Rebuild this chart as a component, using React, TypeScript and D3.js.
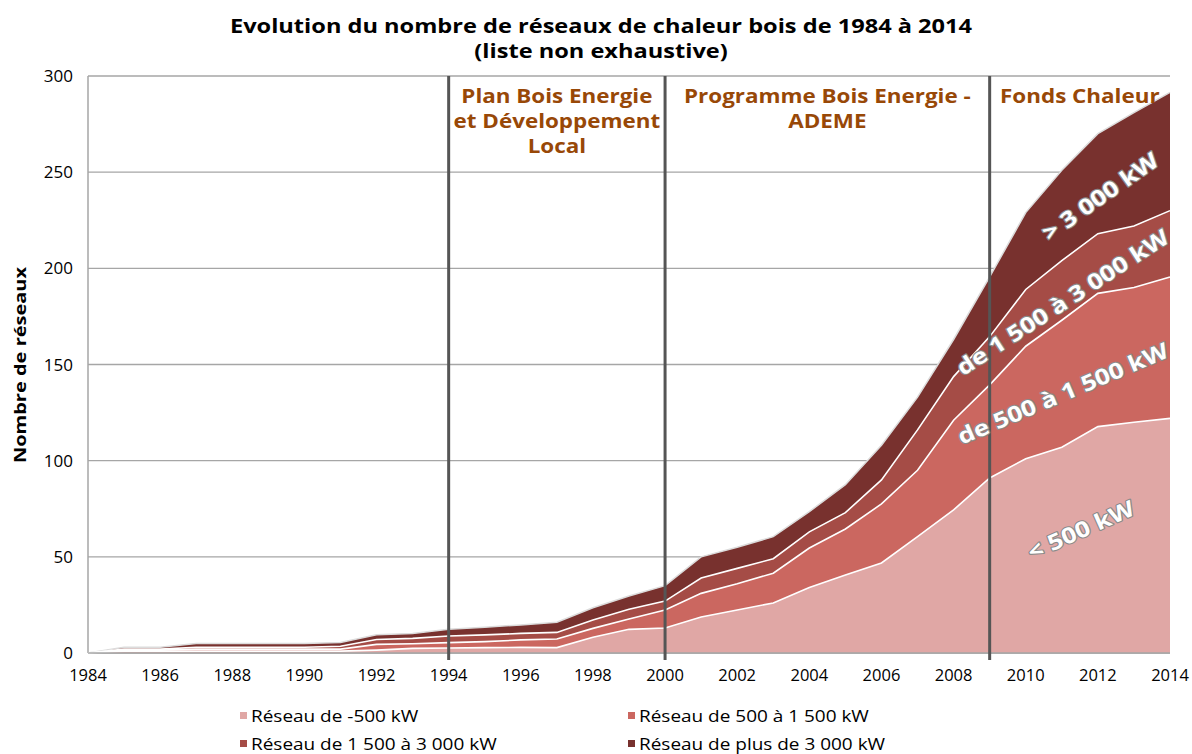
import React from "react";
import * as d3 from "d3";

const years = [1984,1985,1986,1987,1988,1989,1990,1991,1992,1993,1994,1995,1996,1997,1998,1999,2000,2001,2002,2003,2004,2005,2006,2007,2008,2009,2010,2011,2012,2013,2014];
const moins500 = [0,1,1,1,1,1,1,1,1.5,2.4,2.6,2.8,2.9,2.8,8.2,12.3,13,18.7,22.4,26,34,40.6,46.8,60.5,74.4,91,101,107,117.7,120,122];
const de500a1500 = [0,0.5,0.5,1,1,1,1,1,3,2.4,2.8,3.1,3.9,4.5,4.6,5.4,9.4,12.3,13.6,15.5,20.6,23.9,30.7,34.5,46.6,48.4,58.5,66,69.3,70,73.5];
const de1500a3000 = [0,0.5,0.5,1,1,1,1,1.5,2.5,2.8,3.4,3.5,3.4,3.4,4.4,5,4.6,8,8,7.5,8.4,8.5,12.5,21,22.7,25.1,29.5,31,31,32,34.5];
const plus3000 = [0,1,1,2,2,2,2,2,2.5,2.6,3.5,4,4.4,5.3,6.3,6.9,8,11,11,11.5,10.5,14.5,18,17,19.3,31,40,47,52,59,61.5];

const seriesKeys = ["moins500", "de500a1500", "de1500a3000", "plus3000"];
const seriesNames = ["Réseau de -500 kW", "Réseau de 500 à 1 500 kW", "Réseau de 1 500 à 3 000 kW", "Réseau de plus de 3 000 kW"];
const colors = ["#e0a7a5", "#cb6760", "#a54c46", "#78312e"];
const yTicks = [0, 50, 100, 150, 200, 250, 300];
const xTicks = [1984,1986,1988,1990,1992,1994,1996,1998,2000,2002,2004,2006,2008,2010,2012,2014];
const periodYears = [1994, 2000, 2009];
const periodLabels = [
  { x: 1997, lines: ["Plan Bois Energie", "et Développement", "Local"] },
  { x: 2004.5, lines: ["Programme Bois Energie -", "ADEME"] },
  { x: 2011.5, lines: ["Fonds Chaleur"] },
];
const areaLabels = [
  { text: "> 3 000 kW", year: 2012.1, value: 236.5, angle: -35 },
  { text: "de 1 500 à 3 000 kW", year: 2011.05, value: 181.5, angle: -33 },
  { text: "de 500 à 1 500 kW", year: 2011.05, value: 134, angle: -23 },
  { text: "< 500 kW", year: 2011.55, value: 63, angle: -24 },
];

const FONT = "'Open Sans', 'Noto Sans', sans-serif";

export default function App() {
  const width = 1192, height = 754;
  const left = 88, right = 1170, top = 76, bottom = 653;
  const x = d3.scaleLinear().domain([1984, 2014]).range([left, right]);
  const y = d3.scaleLinear().domain([0, 300]).range([bottom, top]);

  const table = years.map((yr, i) => ({
    year: yr,
    moins500: moins500[i],
    de500a1500: de500a1500[i],
    de1500a3000: de1500a3000[i],
    plus3000: plus3000[i],
  }));
  const stacked = d3.stack<any>().keys(seriesKeys)(table);
  const area = d3.area<any>().x((d) => x(d.data.year)).y0((d) => y(d[0])).y1((d) => y(d[1]));
  const line = d3.line<any>().x((d) => x(d.data.year)).y((d) => y(d[1]));

  const sx = 1.18;

  return (
    <svg width={width} height={height} style={{ position: "absolute", left: 0, top: 0, background: "#fff" }} fontFamily={FONT}>
      <g transform={`translate(601,0) scale(${sx},1)`}>
        <text x={0} y={33} textAnchor="middle" fontSize={20} fontWeight="bold" fill="#000">
          Evolution du nombre de réseaux de chaleur bois de 1984 à 2014
        </text>
        <text x={0} y={58} textAnchor="middle" fontSize={20} fontWeight="bold" fill="#000">
          (liste non exhaustive)
        </text>
      </g>

      {yTicks.map((t) => (
        <g key={t}>
          <line x1={left} x2={right} y1={y(t)} y2={y(t)} stroke="#a6a6a6" strokeWidth={1.3} />
          <text x={73} y={y(t) + 6} textAnchor="end" fontSize={17} fill="#000">{t}</text>
        </g>
      ))}
      <line x1={left} x2={left} y1={top} y2={bottom} stroke="#a6a6a6" strokeWidth={1.5} />

      {stacked.map((s, i) => (
        <path key={s.key} d={area(s) || ""} fill={colors[i]} />
      ))}
      <path d={line(stacked[3]) || ""} fill="none" stroke="#dcdcdc" strokeWidth={1.5} />
      {stacked.slice(0, 3).map((s) => (
        <path key={"l" + s.key} d={line(s) || ""} fill="none" stroke="#ffffff" strokeWidth={1.6} />
      ))}

      <line x1={left} x2={right} y1={bottom} y2={bottom} stroke="#a6a6a6" strokeWidth={1.5} />
      {xTicks.map((t) => (
        <text key={t} x={x(t)} y={681} textAnchor="middle" fontSize={16.5} fill="#000">{t}</text>
      ))}

      {periodYears.map((p) => (
        <line key={p} x1={x(p)} x2={x(p)} y1={top} y2={bottom + 7} stroke="#555555" strokeWidth={3} />
      ))}
      {periodLabels.map((p, i) => (
        <g key={i} transform={`translate(${x(p.x)},0) scale(${sx},1)`}>
          <text x={0} textAnchor="middle" fontSize={19} fontWeight="bold" fill="#984807">
            {p.lines.map((l, j) => (
              <tspan key={j} x={0} y={103 + j * 25}>{l}</tspan>
            ))}
          </text>
        </g>
      ))}

      {areaLabels.map((a, i) => (
        <g key={i} transform={`translate(${x(a.year)},${y(a.value)}) rotate(${a.angle}) scale(${sx},1)`}>
          <text x={0} y={0} textAnchor="middle" dominantBaseline="middle"
            fontSize={22} fontWeight="bold" fill="#fff" stroke="#8a8a8a" strokeWidth={2.2} paintOrder="stroke" strokeLinejoin="round">
            {a.text}
          </text>
        </g>
      ))}

      <g transform={`translate(26,365) rotate(-90) scale(1.25,1)`}>
        <text x={0} y={0} textAnchor="middle" fontSize={16} fontWeight="bold" fill="#000">
          Nombre de réseaux
        </text>
      </g>

      {seriesNames.map((n, i) => {
        const col = i % 2, row = Math.floor(i / 2);
        const lx = col === 0 ? 240 : 628;
        const ly = 716 + row * 28;
        return (
          <g key={n}>
            <rect x={lx} y={ly - 4} width={7} height={7} fill={colors[i]} />
            <g transform={`translate(${lx + 11},${ly + 6}) scale(1.15,1)`}>
              <text x={0} y={0} fontSize={16.5} fill="#000">{n}</text>
            </g>
          </g>
        );
      })}
    </svg>
  );
}
